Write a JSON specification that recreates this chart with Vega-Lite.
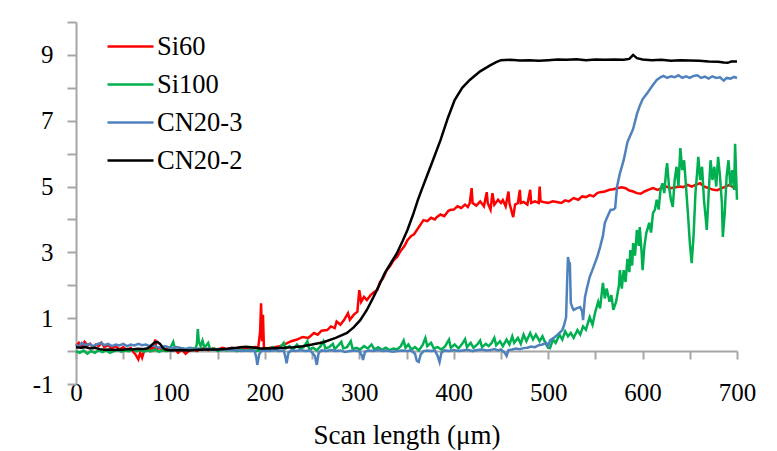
{
"$schema": "https://vega.github.io/schema/vega-lite/v6.json",
"width": 661, "height": 362,
"autosize": {"type": "none"},
"padding": {"left": 76, "top": 22, "right": 40, "bottom": 67},
"background": "white",
"config": {"view": {"stroke": null}},
"datasets": {
"Si60": [{"x":0,"y":0.15},{"x":3,"y":0.25},{"x":6,"y":0.12},{"x":9,"y":0.28},{"x":12,"y":0.18},{"x":15,"y":0.22},{"x":18,"y":0.1},{"x":21,"y":0.2},{"x":24,"y":0.15},{"x":27,"y":0.25},{"x":30,"y":0.12},{"x":34,"y":0.18},{"x":38,"y":0.08},{"x":42,"y":0.15},{"x":46,"y":0.05},{"x":50,"y":0.12},{"x":54,"y":0.02},{"x":58,"y":0.1},{"x":60,"y":0.0},{"x":63,"y":-0.1},{"x":66,"y":-0.25},{"x":68,"y":-0.05},{"x":70,"y":-0.2},{"x":72,"y":0.0},{"x":75,"y":0.05},{"x":78,"y":0.0},{"x":80,"y":0.1},{"x":82,"y":0.05},{"x":84,"y":0.35},{"x":85,"y":0.05},{"x":88,"y":0.1},{"x":92,"y":0.02},{"x":96,"y":0.08},{"x":100,"y":0.05},{"x":104,"y":0.1},{"x":108,"y":-0.05},{"x":112,"y":0.05},{"x":116,"y":-0.08},{"x":120,"y":0.02},{"x":124,"y":0.08},{"x":128,"y":0.0},{"x":132,"y":0.06},{"x":136,"y":0.1},{"x":140,"y":0.03},{"x":145,"y":0.08},{"x":150,"y":0.05},{"x":155,"y":0.1},{"x":160,"y":0.06},{"x":165,"y":0.1},{"x":170,"y":0.07},{"x":175,"y":0.12},{"x":180,"y":0.08},{"x":185,"y":0.1},{"x":190,"y":0.12},{"x":193,"y":0.1},{"x":195,"y":0.6},{"x":196,"y":1.45},{"x":197,"y":0.3},{"x":198,"y":1.1},{"x":199,"y":0.1},{"x":202,"y":0.08},{"x":206,"y":0.1},{"x":210,"y":0.12},{"x":216,"y":0.15},{"x":222,"y":0.22},{"x":228,"y":0.3},{"x":234,"y":0.35},{"x":240,"y":0.43},{"x":246,"y":0.4},{"x":252,"y":0.55},{"x":256,"y":0.5},{"x":260,"y":0.62},{"x":266,"y":0.64},{"x":270,"y":0.75},{"x":274,"y":0.7},{"x":276,"y":0.9},{"x":280,"y":0.8},{"x":284,"y":0.95},{"x":288,"y":1.15},{"x":290,"y":0.95},{"x":294,"y":1.1},{"x":298,"y":1.2},{"x":300,"y":1.85},{"x":302,"y":1.5},{"x":305,"y":1.65},{"x":308,"y":1.55},{"x":312,"y":1.7},{"x":316,"y":1.8},{"x":319,"y":1.85},{"x":322,"y":2.1},{"x":325,"y":2.2},{"x":329,"y":2.46},{"x":333,"y":2.6},{"x":336,"y":2.75},{"x":340,"y":2.86},{"x":344,"y":3.05},{"x":348,"y":3.2},{"x":351,"y":3.37},{"x":355,"y":3.5},{"x":358,"y":3.55},{"x":361,"y":3.68},{"x":365,"y":3.85},{"x":368,"y":3.98},{"x":372,"y":3.95},{"x":376,"y":4.05},{"x":380,"y":4.0},{"x":382,"y":4.07},{"x":386,"y":4.15},{"x":390,"y":4.1},{"x":394,"y":4.25},{"x":396,"y":4.29},{"x":400,"y":4.3},{"x":404,"y":4.4},{"x":408,"y":4.35},{"x":412,"y":4.45},{"x":415,"y":4.38},{"x":417,"y":4.5},{"x":419,"y":4.95},{"x":420,"y":4.5},{"x":424,"y":4.42},{"x":428,"y":4.55},{"x":432,"y":4.4},{"x":435,"y":4.83},{"x":436,"y":4.5},{"x":439,"y":4.3},{"x":441,"y":4.8},{"x":443,"y":4.45},{"x":447,"y":4.6},{"x":450,"y":4.5},{"x":452,"y":4.59},{"x":455,"y":4.4},{"x":458,"y":4.85},{"x":459,"y":4.5},{"x":463,"y":4.07},{"x":465,"y":4.45},{"x":468,"y":4.5},{"x":470,"y":4.9},{"x":471,"y":4.5},{"x":474,"y":4.53},{"x":478,"y":4.45},{"x":481,"y":4.9},{"x":482,"y":4.5},{"x":486,"y":4.55},{"x":490,"y":4.5},{"x":491,"y":5.0},{"x":492,"y":4.55},{"x":495,"y":4.53},{"x":500,"y":4.5},{"x":505,"y":4.55},{"x":509,"y":4.53},{"x":514,"y":4.5},{"x":518,"y":4.58},{"x":522,"y":4.55},{"x":527,"y":4.65},{"x":532,"y":4.6},{"x":536,"y":4.7},{"x":540,"y":4.68},{"x":544,"y":4.74},{"x":548,"y":4.7},{"x":552,"y":4.8},{"x":555,"y":4.83},{"x":560,"y":4.85},{"x":565,"y":4.9},{"x":569,"y":4.92},{"x":573,"y":4.95},{"x":578,"y":4.98},{"x":582,"y":4.95},{"x":586,"y":4.88},{"x":590,"y":4.85},{"x":594,"y":4.8},{"x":598,"y":4.78},{"x":602,"y":4.85},{"x":606,"y":4.9},{"x":611,"y":4.95},{"x":616,"y":4.9},{"x":620,"y":4.95},{"x":625,"y":5.0},{"x":630,"y":4.95},{"x":635,"y":4.98},{"x":640,"y":5.0},{"x":643,"y":4.98},{"x":648,"y":5.05},{"x":652,"y":5.0},{"x":656,"y":5.05},{"x":661,"y":5.1},{"x":665,"y":5.0},{"x":670,"y":4.95},{"x":675,"y":4.9},{"x":679,"y":4.89},{"x":684,"y":4.95},{"x":688,"y":5.0},{"x":692,"y":5.05},{"x":696,"y":4.98},{"x":700,"y":4.98}],
"Si100": [{"x":0,"y":0.0},{"x":4,"y":-0.05},{"x":8,"y":0.02},{"x":12,"y":-0.08},{"x":16,"y":0.0},{"x":20,"y":-0.05},{"x":24,"y":0.03},{"x":28,"y":-0.03},{"x":32,"y":0.02},{"x":36,"y":-0.05},{"x":40,"y":0.0},{"x":44,"y":0.03},{"x":48,"y":-0.02},{"x":52,"y":0.02},{"x":56,"y":0.0},{"x":60,"y":0.05},{"x":64,"y":0.0},{"x":68,"y":0.03},{"x":72,"y":-0.02},{"x":76,"y":0.02},{"x":80,"y":0.0},{"x":84,"y":0.05},{"x":88,"y":-0.02},{"x":92,"y":0.03},{"x":96,"y":0.0},{"x":100,"y":0.1},{"x":103,"y":0.28},{"x":105,"y":0.05},{"x":110,"y":0.02},{"x":114,"y":0.08},{"x":118,"y":0.03},{"x":122,"y":0.1},{"x":126,"y":0.05},{"x":128,"y":0.2},{"x":129,"y":0.67},{"x":130,"y":0.3},{"x":132,"y":0.15},{"x":134,"y":0.32},{"x":136,"y":0.1},{"x":140,"y":0.25},{"x":142,"y":0.05},{"x":146,"y":0.08},{"x":150,"y":0.0},{"x":155,"y":0.05},{"x":160,"y":0.02},{"x":165,"y":0.06},{"x":170,"y":0.0},{"x":175,"y":0.04},{"x":180,"y":0.02},{"x":185,"y":0.05},{"x":190,"y":0.0},{"x":195,"y":0.03},{"x":200,"y":0.05},{"x":204,"y":0.02},{"x":208,"y":0.12},{"x":212,"y":0.05},{"x":216,"y":0.1},{"x":220,"y":0.25},{"x":222,"y":0.08},{"x":226,"y":0.15},{"x":230,"y":0.05},{"x":234,"y":0.2},{"x":237,"y":0.08},{"x":241,"y":0.12},{"x":245,"y":0.3},{"x":247,"y":0.05},{"x":251,"y":0.1},{"x":255,"y":0.02},{"x":259,"y":0.15},{"x":262,"y":0.3},{"x":264,"y":0.08},{"x":268,"y":0.12},{"x":272,"y":0.22},{"x":274,"y":0.06},{"x":278,"y":0.18},{"x":281,"y":0.28},{"x":283,"y":0.08},{"x":287,"y":0.12},{"x":291,"y":0.3},{"x":293,"y":0.06},{"x":297,"y":0.1},{"x":301,"y":0.05},{"x":305,"y":0.15},{"x":309,"y":0.08},{"x":313,"y":0.2},{"x":316,"y":0.05},{"x":320,"y":0.12},{"x":324,"y":0.04},{"x":328,"y":0.1},{"x":332,"y":0.03},{"x":336,"y":0.08},{"x":340,"y":0.05},{"x":344,"y":0.15},{"x":347,"y":0.32},{"x":349,"y":0.1},{"x":352,"y":0.2},{"x":355,"y":0.05},{"x":359,"y":0.12},{"x":363,"y":0.02},{"x":367,"y":0.18},{"x":370,"y":0.4},{"x":372,"y":0.15},{"x":376,"y":0.25},{"x":379,"y":0.08},{"x":383,"y":0.12},{"x":387,"y":0.05},{"x":391,"y":0.15},{"x":395,"y":0.35},{"x":397,"y":0.1},{"x":401,"y":0.2},{"x":405,"y":0.08},{"x":409,"y":0.22},{"x":412,"y":0.36},{"x":414,"y":0.12},{"x":418,"y":0.25},{"x":421,"y":0.1},{"x":425,"y":0.2},{"x":428,"y":0.32},{"x":430,"y":0.12},{"x":434,"y":0.22},{"x":437,"y":0.15},{"x":440,"y":0.24},{"x":443,"y":0.4},{"x":445,"y":0.18},{"x":449,"y":0.3},{"x":452,"y":0.15},{"x":456,"y":0.35},{"x":459,"y":0.2},{"x":462,"y":0.45},{"x":464,"y":0.25},{"x":468,"y":0.4},{"x":471,"y":0.22},{"x":474,"y":0.5},{"x":477,"y":0.3},{"x":481,"y":0.55},{"x":484,"y":0.35},{"x":487,"y":0.5},{"x":491,"y":0.3},{"x":494,"y":0.45},{"x":497,"y":0.25},{"x":500,"y":0.1},{"x":502,"y":0.09},{"x":505,"y":0.35},{"x":508,"y":0.25},{"x":512,"y":0.5},{"x":515,"y":0.35},{"x":518,"y":0.6},{"x":521,"y":0.45},{"x":524,"y":0.55},{"x":527,"y":0.4},{"x":531,"y":0.64},{"x":534,"y":0.5},{"x":537,"y":0.75},{"x":540,"y":0.65},{"x":544,"y":1.03},{"x":547,"y":0.8},{"x":550,"y":1.2},{"x":553,"y":1.5},{"x":555,"y":1.3},{"x":558,"y":2.07},{"x":560,"y":1.6},{"x":562,"y":1.9},{"x":565,"y":1.5},{"x":567,"y":1.7},{"x":569,"y":1.25},{"x":572,"y":1.5},{"x":575,"y":2.0},{"x":576,"y":2.46},{"x":578,"y":1.9},{"x":580,"y":2.46},{"x":582,"y":2.1},{"x":584,"y":2.8},{"x":586,"y":2.4},{"x":587,"y":3.07},{"x":589,"y":2.6},{"x":590,"y":3.28},{"x":592,"y":2.9},{"x":594,"y":3.68},{"x":596,"y":3.2},{"x":597,"y":3.77},{"x":599,"y":3.0},{"x":600,"y":2.46},{"x":602,"y":3.2},{"x":604,"y":3.6},{"x":605,"y":3.68},{"x":607,"y":3.9},{"x":609,"y":3.6},{"x":611,"y":4.19},{"x":613,"y":4.29},{"x":615,"y":4.6},{"x":617,"y":4.3},{"x":619,"y":4.9},{"x":621,"y":5.1},{"x":623,"y":4.8},{"x":625,"y":5.5},{"x":626,"y":5.71},{"x":628,"y":5.0},{"x":630,"y":4.6},{"x":632,"y":4.38},{"x":634,"y":5.2},{"x":636,"y":5.6},{"x":638,"y":5.0},{"x":640,"y":6.17},{"x":642,"y":5.5},{"x":644,"y":5.8},{"x":646,"y":5.0},{"x":648,"y":4.2},{"x":650,"y":3.3},{"x":652,"y":2.67},{"x":654,"y":3.5},{"x":656,"y":4.8},{"x":658,"y":5.5},{"x":659,"y":5.9},{"x":661,"y":5.2},{"x":663,"y":5.6},{"x":665,"y":4.6},{"x":667,"y":4.0},{"x":668,"y":3.68},{"x":670,"y":4.8},{"x":672,"y":5.8},{"x":674,"y":5.2},{"x":676,"y":5.6},{"x":678,"y":5.0},{"x":680,"y":5.9},{"x":682,"y":5.3},{"x":684,"y":4.5},{"x":685,"y":3.47},{"x":687,"y":4.2},{"x":689,"y":5.3},{"x":691,"y":5.8},{"x":693,"y":5.0},{"x":695,"y":5.5},{"x":697,"y":4.9},{"x":698,"y":6.3},{"x":699,"y":5.4},{"x":700,"y":4.6}],
"CN203": [{"x":0,"y":0.2},{"x":3,"y":0.12},{"x":6,"y":0.25},{"x":10,"y":0.18},{"x":14,"y":0.22},{"x":18,"y":0.15},{"x":22,"y":0.2},{"x":26,"y":0.25},{"x":30,"y":0.18},{"x":34,"y":0.22},{"x":38,"y":0.15},{"x":42,"y":0.2},{"x":46,"y":0.17},{"x":50,"y":0.22},{"x":54,"y":0.15},{"x":58,"y":0.2},{"x":62,"y":0.17},{"x":66,"y":0.22},{"x":70,"y":0.18},{"x":74,"y":0.2},{"x":78,"y":0.15},{"x":82,"y":0.18},{"x":86,"y":0.12},{"x":90,"y":0.1},{"x":94,"y":0.15},{"x":98,"y":0.12},{"x":102,"y":0.08},{"x":106,"y":0.12},{"x":110,"y":0.1},{"x":115,"y":0.06},{"x":120,"y":0.1},{"x":125,"y":0.05},{"x":130,"y":0.08},{"x":135,"y":0.05},{"x":140,"y":0.08},{"x":145,"y":0.04},{"x":150,"y":0.06},{"x":155,"y":0.03},{"x":160,"y":0.05},{"x":165,"y":0.02},{"x":170,"y":0.04},{"x":175,"y":0.0},{"x":180,"y":0.02},{"x":185,"y":0.0},{"x":189,"y":0.02},{"x":191,"y":-0.2},{"x":192,"y":-0.42},{"x":194,"y":-0.1},{"x":196,"y":0.0},{"x":200,"y":0.02},{"x":205,"y":0.0},{"x":210,"y":0.03},{"x":215,"y":0.0},{"x":220,"y":0.02},{"x":222,"y":-0.2},{"x":223,"y":-0.37},{"x":225,"y":-0.05},{"x":228,"y":0.02},{"x":233,"y":0.0},{"x":238,"y":0.03},{"x":243,"y":0.0},{"x":248,"y":0.02},{"x":253,"y":-0.15},{"x":255,"y":-0.42},{"x":257,"y":-0.05},{"x":260,"y":0.02},{"x":265,"y":0.0},{"x":270,"y":0.03},{"x":275,"y":0.0},{"x":280,"y":0.02},{"x":285,"y":-0.03},{"x":290,"y":0.0},{"x":295,"y":0.02},{"x":300,"y":0.0},{"x":303,"y":-0.15},{"x":304,"y":-0.27},{"x":306,"y":-0.02},{"x":310,"y":0.02},{"x":315,"y":0.0},{"x":320,"y":0.03},{"x":325,"y":0.0},{"x":330,"y":0.02},{"x":335,"y":-0.02},{"x":340,"y":0.0},{"x":345,"y":0.02},{"x":350,"y":0.0},{"x":355,"y":0.02},{"x":359,"y":-0.08},{"x":361,"y":-0.3},{"x":363,"y":-0.33},{"x":365,"y":-0.1},{"x":368,"y":0.0},{"x":372,"y":0.02},{"x":376,"y":0.0},{"x":380,"y":0.02},{"x":383,"y":-0.15},{"x":385,"y":-0.33},{"x":387,"y":-0.05},{"x":390,"y":0.02},{"x":395,"y":0.0},{"x":400,"y":0.03},{"x":405,"y":0.0},{"x":410,"y":0.02},{"x":415,"y":0.04},{"x":420,"y":0.0},{"x":425,"y":0.03},{"x":430,"y":0.05},{"x":435,"y":0.02},{"x":439,"y":0.03},{"x":443,"y":0.06},{"x":447,"y":0.02},{"x":450,"y":0.05},{"x":454,"y":-0.05},{"x":456,"y":-0.15},{"x":458,"y":0.03},{"x":462,"y":0.05},{"x":466,"y":0.08},{"x":470,"y":0.06},{"x":474,"y":0.09},{"x":478,"y":0.1},{"x":482,"y":0.14},{"x":486,"y":0.12},{"x":490,"y":0.18},{"x":494,"y":0.2},{"x":498,"y":0.25},{"x":500,"y":0.15},{"x":502,"y":0.33},{"x":506,"y":0.4},{"x":510,"y":0.5},{"x":513,"y":0.58},{"x":515,"y":0.64},{"x":517,"y":0.8},{"x":519,"y":1.03},{"x":520,"y":2.0},{"x":521,"y":2.86},{"x":522,"y":2.7},{"x":523,"y":2.67},{"x":524,"y":1.46},{"x":526,"y":1.3},{"x":527,"y":1.25},{"x":530,"y":1.3},{"x":534,"y":1.34},{"x":536,"y":1.2},{"x":537,"y":0.94},{"x":538,"y":1.3},{"x":539,"y":1.64},{"x":541,"y":1.9},{"x":544,"y":2.25},{"x":548,"y":2.55},{"x":552,"y":2.86},{"x":555,"y":3.16},{"x":558,"y":3.5},{"x":560,"y":3.89},{"x":563,"y":4.1},{"x":566,"y":4.29},{"x":569,"y":4.3},{"x":571,"y":4.35},{"x":573,"y":5.0},{"x":576,"y":5.4},{"x":580,"y":5.8},{"x":584,"y":6.35},{"x":587,"y":6.55},{"x":590,"y":6.75},{"x":594,"y":7.2},{"x":597,"y":7.45},{"x":600,"y":7.65},{"x":605,"y":7.84},{"x":610,"y":8.05},{"x":615,"y":8.24},{"x":619,"y":8.32},{"x":622,"y":8.36},{"x":626,"y":8.3},{"x":630,"y":8.35},{"x":634,"y":8.32},{"x":638,"y":8.38},{"x":642,"y":8.3},{"x":646,"y":8.35},{"x":650,"y":8.3},{"x":654,"y":8.36},{"x":658,"y":8.38},{"x":662,"y":8.3},{"x":666,"y":8.34},{"x":670,"y":8.28},{"x":674,"y":8.35},{"x":678,"y":8.3},{"x":682,"y":8.32},{"x":686,"y":8.22},{"x":689,"y":8.3},{"x":693,"y":8.28},{"x":697,"y":8.33},{"x":700,"y":8.3}],
"CN202": [{"x":0,"y":0.12},{"x":5,"y":0.1},{"x":10,"y":0.12},{"x":15,"y":0.08},{"x":20,"y":0.1},{"x":25,"y":0.06},{"x":30,"y":0.04},{"x":35,"y":0.05},{"x":40,"y":0.03},{"x":45,"y":0.05},{"x":50,"y":0.04},{"x":55,"y":0.06},{"x":60,"y":0.05},{"x":65,"y":0.07},{"x":70,"y":0.06},{"x":75,"y":0.08},{"x":78,"y":0.12},{"x":80,"y":0.18},{"x":83,"y":0.26},{"x":86,"y":0.28},{"x":89,"y":0.22},{"x":92,"y":0.1},{"x":95,"y":0.04},{"x":100,"y":0.02},{"x":110,"y":0.03},{"x":120,"y":0.02},{"x":130,"y":0.04},{"x":140,"y":0.05},{"x":150,"y":0.05},{"x":160,"y":0.07},{"x":170,"y":0.1},{"x":175,"y":0.12},{"x":180,"y":0.13},{"x":185,"y":0.12},{"x":190,"y":0.1},{"x":195,"y":0.08},{"x":200,"y":0.08},{"x":210,"y":0.09},{"x":220,"y":0.1},{"x":230,"y":0.12},{"x":240,"y":0.15},{"x":250,"y":0.2},{"x":262,"y":0.27},{"x":275,"y":0.4},{"x":287,"y":0.55},{"x":294,"y":0.72},{"x":301,"y":0.94},{"x":308,"y":1.25},{"x":315,"y":1.64},{"x":321,"y":2.0},{"x":327,"y":2.37},{"x":334,"y":2.7},{"x":340,"y":2.98},{"x":346,"y":3.35},{"x":351,"y":3.68},{"x":357,"y":4.15},{"x":362,"y":4.59},{"x":366,"y":4.9},{"x":370,"y":5.2},{"x":378,"y":5.8},{"x":386,"y":6.41},{"x":394,"y":7.1},{"x":401,"y":7.63},{"x":409,"y":8.0},{"x":417,"y":8.24},{"x":428,"y":8.5},{"x":439,"y":8.69},{"x":445,"y":8.78},{"x":450,"y":8.84},{"x":460,"y":8.85},{"x":470,"y":8.83},{"x":480,"y":8.84},{"x":490,"y":8.82},{"x":500,"y":8.84},{"x":510,"y":8.86},{"x":520,"y":8.85},{"x":530,"y":8.87},{"x":540,"y":8.84},{"x":550,"y":8.86},{"x":560,"y":8.85},{"x":570,"y":8.86},{"x":580,"y":8.85},{"x":586,"y":8.88},{"x":590,"y":9.0},{"x":594,"y":8.9},{"x":600,"y":8.86},{"x":610,"y":8.84},{"x":620,"y":8.85},{"x":630,"y":8.82},{"x":640,"y":8.84},{"x":650,"y":8.83},{"x":660,"y":8.82},{"x":670,"y":8.8},{"x":680,"y":8.79},{"x":686,"y":8.77},{"x":690,"y":8.76},{"x":694,"y":8.8},{"x":700,"y":8.8}]
},
"encoding": {
  "x": {"field": "x", "type": "quantitative",
    "scale": {"domain": [0, 700], "nice": false, "zero": false},
    "axis": {"values": [0,50,100,150,200,250,300,350,400,450,500,550,600,650,700],
      "labelExpr": "datum.value % 100 == 0 ? '' + datum.value : ''",
      "title": "Scan length (μm)", "offset": -33, "grid": false,
      "domainColor": "#A6A6A6", "domainWidth": 2, "tickColor": "#A6A6A6", "tickWidth": 2, "tickSize": 8,
      "labelPadding": 21, "labelFontSize": 25, "labelColor": "black", "labelFont": "'Liberation Serif'",
      "labelFlush": false, "labelOverlap": false,
      "titleFontSize": 27, "titleFontWeight": "normal", "titleColor": "black", "titleFont": "'Liberation Serif'", "titlePadding": 17}},
  "y": {"field": "y", "type": "quantitative",
    "scale": {"domain": [-1, 10], "nice": false, "zero": false},
    "axis": {"values": [-1,0,1,2,3,4,5,6,7,8,9,10],
      "labelExpr": "datum.value % 2 != 0 ? '' + datum.value : ''",
      "title": null, "grid": false,
      "domainColor": "#A6A6A6", "domainWidth": 2, "tickColor": "#A6A6A6", "tickWidth": 2, "tickSize": 9,
      "labelPadding": 14, "labelFontSize": 25, "labelColor": "black", "labelFont": "'Liberation Serif'",
      "labelOverlap": false, "labelFlush": false}},
  "color": {"type": "nominal",
    "scale": {"domain": ["Si60", "Si100", "CN20-3", "CN20-2"], "range": ["#FF0000", "#00B050", "#4F81BD", "#000000"]},
    "legend": {"orient": "none", "legendX": 30, "legendY": 0, "title": null, "symbolType": "stroke",
      "symbolSize": 2116, "symbolStrokeWidth": 2.5, "labelFontSize": 26.5, "labelFont": "'Liberation Serif'",
      "labelColor": "black", "labelOffset": 2, "rowPadding": -2, "padding": 0}}
},
"layer": [
  {"data": {"name": "Si60"}, "mark": {"type": "line", "strokeWidth": 2.5}, "encoding": {"color": {"datum": "Si60"}}},
  {"data": {"name": "Si100"}, "mark": {"type": "line", "strokeWidth": 2.5}, "encoding": {"color": {"datum": "Si100"}}},
  {"data": {"name": "CN203"}, "mark": {"type": "line", "strokeWidth": 2.5}, "encoding": {"color": {"datum": "CN20-3"}}},
  {"data": {"name": "CN202"}, "mark": {"type": "line", "strokeWidth": 2.5}, "encoding": {"color": {"datum": "CN20-2"}}}
]
}
